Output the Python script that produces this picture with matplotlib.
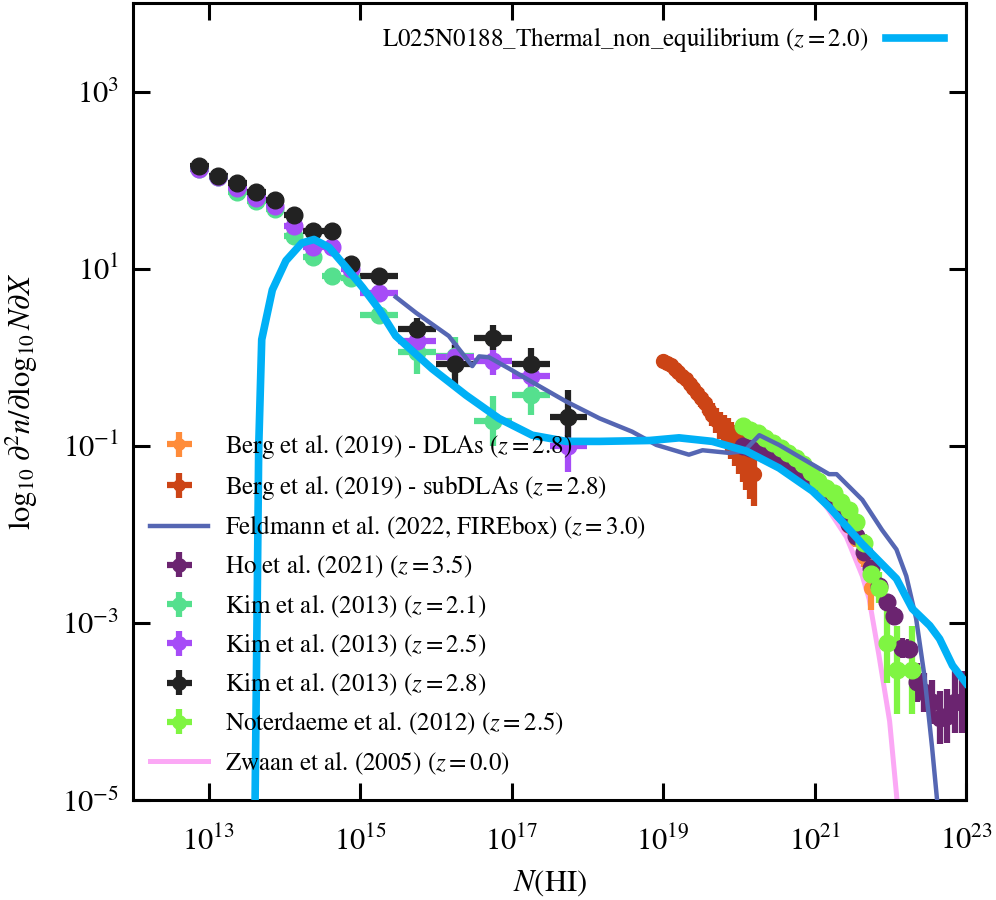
import numpy as np
import matplotlib
matplotlib.use("Agg")
import matplotlib.pyplot as plt

plt.rcParams["font.family"] = ["STIXGeneral", "DejaVu Serif"]
plt.rcParams["mathtext.fontset"] = "stix"

# ---------------------------------------------------------------
# data (log10 N, log10 f)
# ---------------------------------------------------------------
sim_logN = [13.61, 13.64, 13.66, 13.70, 13.84, 14.02, 14.23, 14.39, 14.59, 14.81,
            15.03, 15.25, 15.47, 15.95, 16.40, 16.83, 17.27, 17.72, 18.16, 18.82,
            19.21, 19.65, 20.10, 20.53, 20.97, 21.19, 21.63, 22.08, 22.29, 22.52,
            22.65, 22.82, 23.0]
sim_logf = [-5.2, -2.8, -1.02, 0.20, 0.76, 1.09, 1.29, 1.33, 1.24, 1.02,
            0.79, 0.54, 0.24, -0.13, -0.43, -0.69, -0.88, -0.95, -0.95, -0.94,
            -0.91, -0.95, -1.06, -1.25, -1.51, -1.69, -2.11, -2.50, -2.84, -3.03,
            -3.18, -3.48, -3.68]

feld_logN = [15.47, 15.74, 16.17, 16.48, 16.57, 16.70, 16.97, 17.27, 17.72, 18.16,
             18.59, 18.91, 19.34, 19.52, 19.87, 20.07, 20.27, 20.53, 20.97, 21.19,
             21.29, 21.63, 21.89, 22.08, 22.21, 22.34, 22.45, 22.55, 22.65]
feld_logf = [0.68, 0.50, 0.24, -0.10, 0.01, 0.0, -0.13, -0.28, -0.50, -0.69,
             -0.84, -0.99, -1.10, -1.05, -1.08, -1.06, -0.88, -0.99, -1.21, -1.32,
             -1.32, -1.61, -1.95, -2.17, -2.47, -2.95, -3.60, -4.40, -5.30]

zwaan_logN = [20.30, 20.40, 20.60, 20.80, 21.00, 21.19, 21.42, 21.63, 21.72, 21.85,
              21.99, 22.08, 22.15]
zwaan_logf = [-1.02, -1.08, -1.20, -1.34, -1.51, -1.73, -2.03, -2.47, -2.73, -3.37,
              -4.11, -4.93, -5.6]

kim28_logN = [12.875, 13.125, 13.375, 13.625, 13.875, 14.125, 14.375, 14.625, 14.875,
              15.25, 15.75, 16.25, 16.75, 17.25, 17.75]
kim28_logf = [2.16, 2.05, 1.97, 1.87, 1.78, 1.61, 1.42, 1.42, 1.05,
              0.92, 0.32, -0.08, 0.22, -0.08, -0.67]
kim28_err = [0.02, 0.02, 0.02, 0.02, 0.03, 0.03, 0.04, 0.04, 0.06,
             0.06, 0.12, 0.22, 0.14, 0.18, 0.30]

kim25_logN = kim28_logN
kim25_logf = [2.13, 2.04, 1.91, 1.80, 1.71, 1.48, 1.25, 1.24, 1.00,
              0.73, 0.18, 0.0, -0.04, -0.21, -1.00]
kim25_err = [0.02, 0.02, 0.02, 0.02, 0.03, 0.03, 0.04, 0.04, 0.06,
             0.06, 0.12, 0.16, 0.16, 0.18, 0.30]

kim21_logN = kim28_logN[:14]
kim21_logf = [2.12, 2.03, 1.87, 1.76, 1.67, 1.37, 1.13, 0.92, 0.90,
              0.48, 0.06, 0.01, -0.72, -0.43]
kim21_err = [0.02, 0.02, 0.02, 0.02, 0.03, 0.03, 0.04, 0.05, 0.06,
             0.08, 0.25, 0.22, 0.28, 0.22]

ho_logN = [20.05, 20.15, 20.25, 20.35, 20.45, 20.55, 20.65, 20.75, 20.85, 20.95,
           21.05, 21.15, 21.25, 21.35, 21.45, 21.55, 21.65, 21.75, 21.85, 21.95,
           22.05, 22.15, 22.25, 22.35, 22.45, 22.55, 22.65, 22.75, 22.85, 22.95]
ho_logf = [-1.00, -1.03, -1.06, -1.09, -1.13, -1.18, -1.22, -1.27, -1.32, -1.38,
           -1.45, -1.53, -1.63, -1.75, -1.88, -2.02, -2.20, -2.38, -2.58, -2.76,
           -2.92, -3.28, -3.29, -3.67, -3.78, -3.89, -4.07, -4.05, -3.89, -3.89]
ho_err = [0.01, 0.01, 0.01, 0.01, 0.01, 0.01, 0.01, 0.01, 0.01, 0.02,
          0.02, 0.02, 0.02, 0.03, 0.03, 0.04, 0.05, 0.06, 0.07, 0.08,
          0.10, 0.11, 0.11, 0.22, 0.22, 0.25, 0.30, 0.30, 0.35, 0.35]

not_logN = [20.05, 20.15, 20.25, 20.35, 20.45, 20.55, 20.65, 20.75, 20.85, 20.95,
            21.05, 21.15, 21.25, 21.35, 21.45, 21.55, 21.65, 21.75, 21.85, 21.95,
            22.09, 22.29]
not_logf = [-0.78, -0.82, -0.86, -0.91, -0.97, -1.02, -1.08, -1.14, -1.21, -1.30,
            -1.40, -1.48, -1.53, -1.63, -1.73, -1.86, -2.10, -2.45, -2.60, -3.23,
            -3.53, -3.53]
not_err = [0.01, 0.01, 0.01, 0.01, 0.01, 0.01, 0.02, 0.02, 0.02, 0.02,
           0.03, 0.03, 0.04, 0.05, 0.06, 0.08, 0.10, 0.14, 0.18, 0.45,
           0.50, 0.50]

bergdla_logN = [20.35, 20.45, 20.55, 20.65, 20.75, 20.85, 20.95, 21.05, 21.15, 21.25,
                21.35, 21.45, 21.55, 21.65, 21.75]
bergdla_logf = [-1.02, -1.07, -1.13, -1.18, -1.24, -1.30, -1.37, -1.45, -1.54, -1.65,
                -1.77, -1.90, -2.05, -2.25, -2.60]
bergdla_err = [0.02, 0.02, 0.02, 0.02, 0.03, 0.03, 0.03, 0.04, 0.04, 0.05,
               0.06, 0.07, 0.09, 0.12, 0.25]

bergsub_logN = [19.00, 19.05, 19.10, 19.15, 19.20, 19.25, 19.30, 19.35, 19.40, 19.45,
                19.50, 19.55, 19.60, 19.65, 19.70, 19.75, 19.80, 19.85, 19.90, 19.95,
                20.00, 20.05, 20.10, 20.15, 20.20]
bergsub_logf = [-0.04, -0.06, -0.09, -0.13, -0.17, -0.21, -0.25, -0.30, -0.35, -0.40,
                -0.46, -0.52, -0.59, -0.65, -0.71, -0.77, -0.82, -0.88, -0.94, -1.00,
                -1.07, -1.13, -1.20, -1.27, -1.32]
bergsub_err = [0.02, 0.03, 0.03, 0.04, 0.05, 0.05, 0.06, 0.07, 0.08, 0.09,
               0.10, 0.11, 0.12, 0.13, 0.14, 0.15, 0.17, 0.19, 0.21, 0.23,
               0.25, 0.28, 0.30, 0.33, 0.36]


def obs(ax, logN, logf, err, dx, color, label, ms=12, z=2):
    logN = np.array(logN)
    logf = np.array(logf)
    err = np.array(err)
    x = 10**logN
    y = 10**logf
    yerr = [y - 10**(logf - err), 10**(logf + err) - y]
    xerr = [x - 10**(logN - dx), 10**(logN + dx) - x]
    return ax.errorbar(x, y, yerr=yerr, xerr=xerr, fmt="o", color=color, ms=ms,
                       elinewidth=4.5, capsize=0, label=label, zorder=z)


fig = plt.figure(figsize=(9.96, 9.0), dpi=100)
ax = fig.add_axes([0.1335, 0.111, 0.8365, 0.8857])
ax.set_xscale("log")
ax.set_yscale("log")

kim_dx = np.where(np.array(kim28_logN) < 15, 0.125, 0.25)

handles = []
handles.append(obs(ax, bergdla_logN, bergdla_logf, bergdla_err, 0.05, "#ff8c3a",
                   r"Berg et al. (2019) - DLAs ($z=2.8$)", ms=10))
handles.append(obs(ax, bergsub_logN, bergsub_logf, bergsub_err, 0.025, "#cc4416",
                   r"Berg et al. (2019) - subDLAs ($z=2.8$)", ms=10))
feld, = ax.plot(10**np.array(feld_logN), 10**np.array(feld_logf), color="#5566b3",
                lw=3.2, label=r"Feldmann et al. (2022, FIREbox) ($z=3.0$)", zorder=3)
handles.append(feld)
handles.append(obs(ax, ho_logN, ho_logf, ho_err, 0.05, "#6b2470",
                   r"Ho et al. (2021) ($z=3.5$)"))
handles.append(obs(ax, kim21_logN, kim21_logf, kim21_err, kim_dx[:14], "#55e08e",
                   r"Kim et al. (2013) ($z=2.1$)"))
handles.append(obs(ax, kim25_logN, kim25_logf, kim25_err, kim_dx, "#a64cf7",
                   r"Kim et al. (2013) ($z=2.5$)"))
handles.append(obs(ax, kim28_logN, kim28_logf, kim28_err, kim_dx, "#222222",
                   r"Kim et al. (2013) ($z=2.8$)"))
handles.append(obs(ax, not_logN, not_logf, not_err, 0.05, "#7ff542",
                   r"Noterdaeme et al. (2012) ($z=2.5$)"))
zw, = ax.plot(10**np.array(zwaan_logN), 10**np.array(zwaan_logf), color="#fba8f5",
              lw=3.6, label=r"Zwaan et al. (2005) ($z=0.0$)", zorder=1.5)
handles.append(zw)

sim_line, = ax.plot(10**np.array(sim_logN), 10**np.array(sim_logf), color="#00b0f6",
                    lw=5.5, zorder=4)

ax.set_xlim(1e12, 1e23)
ax.set_ylim(1e-5, 1e4)
ax.set_xticks([1e13, 1e15, 1e17, 1e19, 1e21, 1e23])
ax.set_yticks([1e-5, 1e-3, 1e-1, 1e1, 1e3])
ax.minorticks_off()
ax.tick_params(which="both", direction="in", top=True, right=True,
               length=12, width=2.2, labelsize=22, pad=10)
ax.tick_params(axis="x", pad=19)
for sp in ax.spines.values():
    sp.set_linewidth(2.2)

ax.set_xlabel(r"$N$(HI)", fontsize=22, labelpad=8)
ax.set_ylabel(r"$\log_{10}\,\partial^2 n/\partial\log_{10}N\partial X$", fontsize=22,
              labelpad=16)

leg1 = ax.legend(handles=handles, loc="lower left", frameon=False, fontsize=18,
                 markerscale=0.8, handlelength=2.3, handletextpad=0.7,
                 labelspacing=0.48, borderaxespad=0.3,
                 bbox_to_anchor=(0.0, 0.0075))
ax.add_artist(leg1)
ax.legend([sim_line], [r"L025N0188_Thermal_non_equilibrium ($z=2.0$)"],
          loc="upper right", frameon=False, fontsize=18, markerfirst=False,
          handlelength=2.3, handletextpad=0.7, borderaxespad=0.5)

fig.savefig("out.png", dpi=100)
